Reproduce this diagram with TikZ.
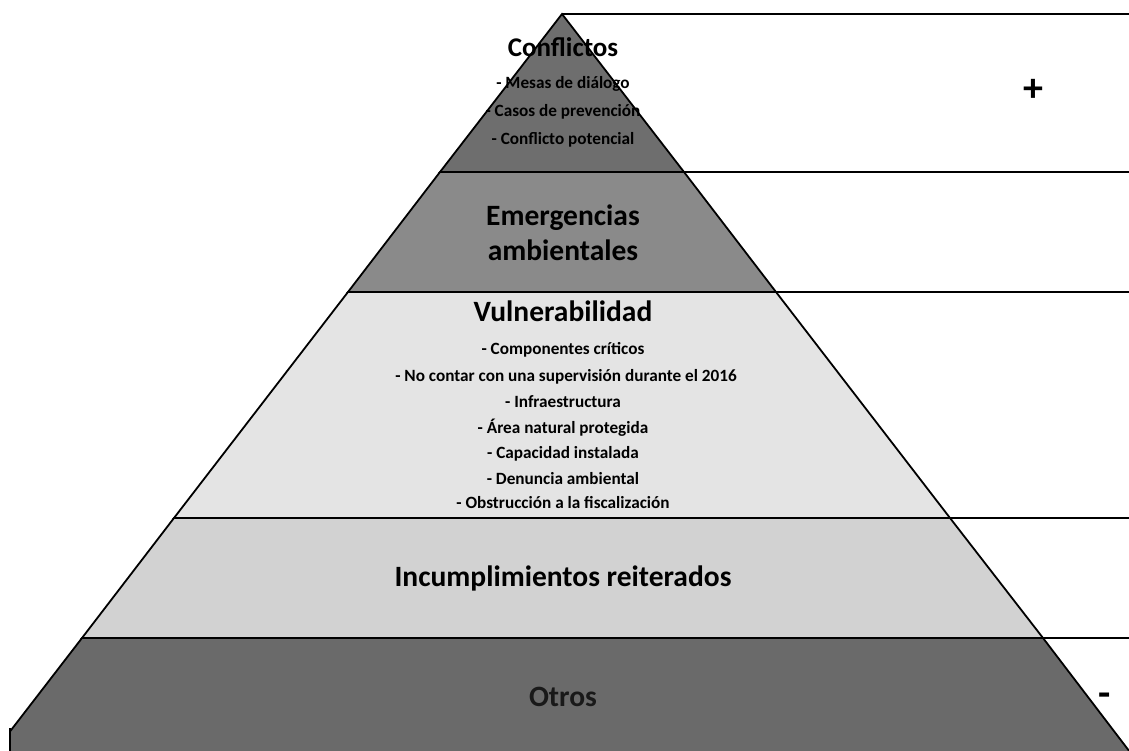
\documentclass[tikz,border=0pt]{standalone}
\usepackage{fontspec}
\setmainfont{Carlito}
\begin{document}
\begin{tikzpicture}[x=1pt,y=-1pt,
  band/.style={draw=black,line width=1.8pt,line join=miter},
  rline/.style={draw=black,line width=1.2pt},
  title/.style={font=\bfseries\fontsize{29.5}{32}\selectfont,text=black,inner sep=0pt},
  item/.style={font=\bfseries\fontsize{17.2}{19}\selectfont,text=black,inner sep=0pt},
  sign/.style={font=\bfseries\fontsize{40}{40}\selectfont,text=black,inner sep=0pt}]
\useasboundingbox (0,0) rectangle (1129,751);
\definecolor{gA}{HTML}{6E6E6E}
\definecolor{gB}{HTML}{8A8A8A}
\definecolor{gC}{HTML}{E4E4E4}
\definecolor{gD}{HTML}{D2D2D2}
\definecolor{gE}{HTML}{6A6A6A}
% apex and band edges (slope 0.770)
\coordinate (ap) at (562,14);
\coordinate (l1) at (440,172);  \coordinate (r1) at (684,172);
\coordinate (l2) at (348,292);  \coordinate (r2) at (776,292);
\coordinate (l3) at (174,518);  \coordinate (r3) at (950,518);
\coordinate (l4) at (82,638);   \coordinate (r4) at (1043,638);
\coordinate (l5) at (-12,760);  \coordinate (r5) at (1136,760);
\begin{scope}
\clip (10,0) rectangle (1129,751);
\path[band,fill=gA] (ap) -- (r1) -- (l1) -- cycle;
\path[band,fill=gB] (l1) -- (r1) -- (r2) -- (l2) -- cycle;
\path[band,fill=gC] (l2) -- (r2) -- (r3) -- (l3) -- cycle;
\path[band,fill=gD] (l3) -- (r3) -- (r4) -- (l4) -- cycle;
\path[band,fill=gE] (l4) -- (r4) -- (r5) -- (l5) -- cycle;
\end{scope}
\coordinate (c0) at (10,728);
\coordinate (c1) at (10,751);
\draw[band] (c0) -- (c1);
% right horizontal rules
\coordinate (e0) at (1129,14);
\coordinate (e1) at (1129,172);
\coordinate (e2) at (1129,292);
\coordinate (e3) at (1129,518);
\coordinate (e4) at (1129,638);
\draw[rline] (ap) -- (e0);
\draw[rline] (r1) -- (e1);
\draw[rline] (r2) -- (e2);
\draw[rline] (r3) -- (e3);
\draw[rline] (r4) -- (e4);
% texts
\node[title,font=\bfseries\fontsize{27}{30}\selectfont] (t1) at (563,47) {Conflictos};
\node[item] (t1a) at (563,84) {- Mesas de diálogo};
\node[item] (t1b) at (563,112) {- Casos de prevención};
\node[item] (t1c) at (563,140) {- Conflicto potencial};
\node[title] (t2a) at (563,218) {Emergencias};
\node[title] (t2b) at (563,250) {ambientales};
\node[title] (t3) at (563,311) {Vulnerabilidad};
\node[item] (t3a) at (563,350) {- Componentes críticos};
\node[item] (t3b) at (566,377) {- No contar con una supervisión durante el 2016};
\node[item] (t3c) at (563,402) {- Infraestructura};
\node[item] (t3d) at (563,428) {- Área natural protegida};
\node[item] (t3e) at (563,454) {- Capacidad instalada};
\node[item] (t3f) at (563,479) {- Denuncia ambiental};
\node[item] (t3g) at (563,503) {- Obstrucción a la fiscalización};
\node[title] (t4) at (563,578) {Incumplimientos reiterados};
\node[title,text=black!90] (t5) at (563,697) {Otros};
\node[sign] (plus) at (1033,90) {+};
\node[sign] (minus) at (1105,700) {-};
\end{tikzpicture}
\end{document}
